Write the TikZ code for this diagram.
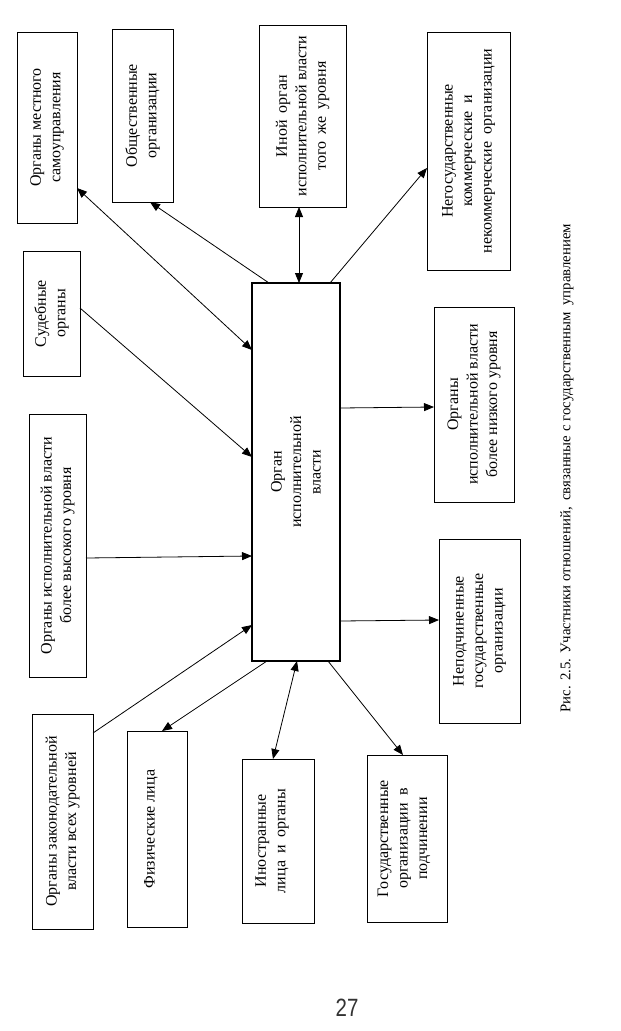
\documentclass[tikz,border=0pt]{standalone}
\usepackage{fontspec}
\setmainfont{Liberation Serif}
\newfontfamily\numfont{Liberation Sans}
\usetikzlibrary{arrows.meta}
\newcommand\dsp{\hspace{0.45em}}
\begin{document}
\begin{tikzpicture}[x=1pt,y=-1pt,
  box/.style={draw=black, line width=1pt, inner sep=0pt, outer sep=0pt},
  mainbox/.style={box, line width=2.6pt},
  lbl/.style={rotate=90, align=center, font=\fontsize{16}{19.5}\selectfont, inner sep=0pt},
  arr/.style={line width=0.8pt, -{Triangle[length=10pt,width=8pt]}},
  darr/.style={line width=0.8pt, {Triangle[length=10pt,width=8pt]}-{Triangle[length=10pt,width=8pt]}}]
\useasboundingbox[fill=white] (0,0) rectangle (621,1031);

% central box
\node[mainbox, minimum width=88pt, minimum height=378pt] (C) at (296,472) {};
\node[lbl] (tC) at (C.center) {Орган\\исполнительной\\власти};

% top row
\node[box, minimum width=60pt, minimum height=191pt] (b1) at (47,127.5) {};
\node[lbl] (t1) at (b1.center) {Органы местного\\самоуправления};
\node[box, minimum width=61pt, minimum height=173pt] (b2) at (142.5,115.5) {};
\node[lbl] (t2) at (b2.center) {Общественные\\организации};
\node[box, minimum width=87pt, minimum height=182pt] (b3) at (302.5,116) {};
\node[lbl] (t3) at (b3.center) {Иной\dsp орган\\исполнительной власти\\того\dsp же\dsp уровня};
\node[box, minimum width=83pt, minimum height=238pt] (b4) at (468.5,151) {};
\node[lbl] (t4) at (b4.center) {Негосударственные\\коммерческие\dsp и\\некоммерческие\dsp организации};

% left column
\node[box, minimum width=57pt, minimum height=125pt] (bs) at (51.5,313.5) {};
\node[lbl] (ts) at (bs.center) {Судебные\\органы};
\node[box, minimum width=57pt, minimum height=263pt] (bh) at (57.5,545.5) {};
\node[lbl] (th) at (bh.center) {Органы исполнительной власти\\более высокого уровня};
\node[box, minimum width=61pt, minimum height=215pt] (bl) at (62.5,821.5) {};
\node[lbl] (tl) at (bl.center) {Органы законодательной\\власти всех уровней};

% bottom row
\node[box, minimum width=60pt, minimum height=196pt] (bp) at (157,829) {};
\node[lbl] (tp) at ([xshift=-6pt]bp.center) {Физические лица};
\node[box, minimum width=72pt, minimum height=164pt] (bf) at (278,841) {};
\node[lbl] (tf) at ([xshift=-6pt]bf.center) {Иностранные\\лица\dsp и\dsp органы};
\node[box, minimum width=80pt, minimum height=167pt] (bg) at (407,838.5) {};
\node[lbl] (tg) at ([xshift=-3pt]bg.center) {Государственные\\организации\dsp в\\подчинении};

% right column
\node[box, minimum width=80pt, minimum height=195pt] (bn) at (474,404.5) {};
\node[lbl] (tn) at (bn.center) {Органы\\исполнительной власти\\более низкого уровня};
\node[box, minimum width=81pt, minimum height=184pt] (bu) at (479.5,631) {};
\node[lbl] (tu) at (bu.center) {Неподчиненные\\государственные\\организации};

% connectors
\draw[darr] ([yshift=-60.5pt]b1.east) -- ([yshift=122pt]C.west);
\draw[arr] ([xshift=-27pt]C.north) -- ([xshift=7.5pt]b2.south);
\draw[darr] ([xshift=-3.5pt]b3.south) -- ([xshift=3pt]C.north);
\draw[arr] ([xshift=34pt]C.north) -- ([yshift=-17pt]b4.west);
\draw[arr] ([yshift=5.5pt]bs.east) -- ([yshift=15pt]C.west);
\draw[arr] ([yshift=-12.5pt]bh.east) -- ([yshift=-84pt]C.west);
\draw[arr] ([yshift=88.5pt]bl.east) -- ([yshift=-153pt]C.west);
\draw[arr] ([xshift=-29pt]C.south) -- ([xshift=5pt]bp.north);
\draw[darr] ([xshift=1pt]C.south) -- ([xshift=-5pt]bf.north);
\draw[arr] ([xshift=32pt]C.south) -- ([xshift=-4pt]bg.north);
\draw[arr] ([yshift=64pt]C.east) -- ([yshift=-2.5pt]bn.west);
\draw[arr] ([yshift=-149pt]C.east) -- ([yshift=11pt]bu.west);

% caption and page number
\node[rotate=90, inner sep=0pt, font=\fontsize{14.8}{17}\selectfont] (cap) at (567,468)
  {Рис. 2.5. Участники отношений,\dsp связанные с государственным\dsp управлением};
\node[inner sep=0pt, xscale=0.82, text=black!80, font=\numfont\fontsize{25}{25}\selectfont] (pg) at (347,1008) {27};
\end{tikzpicture}
\end{document}
